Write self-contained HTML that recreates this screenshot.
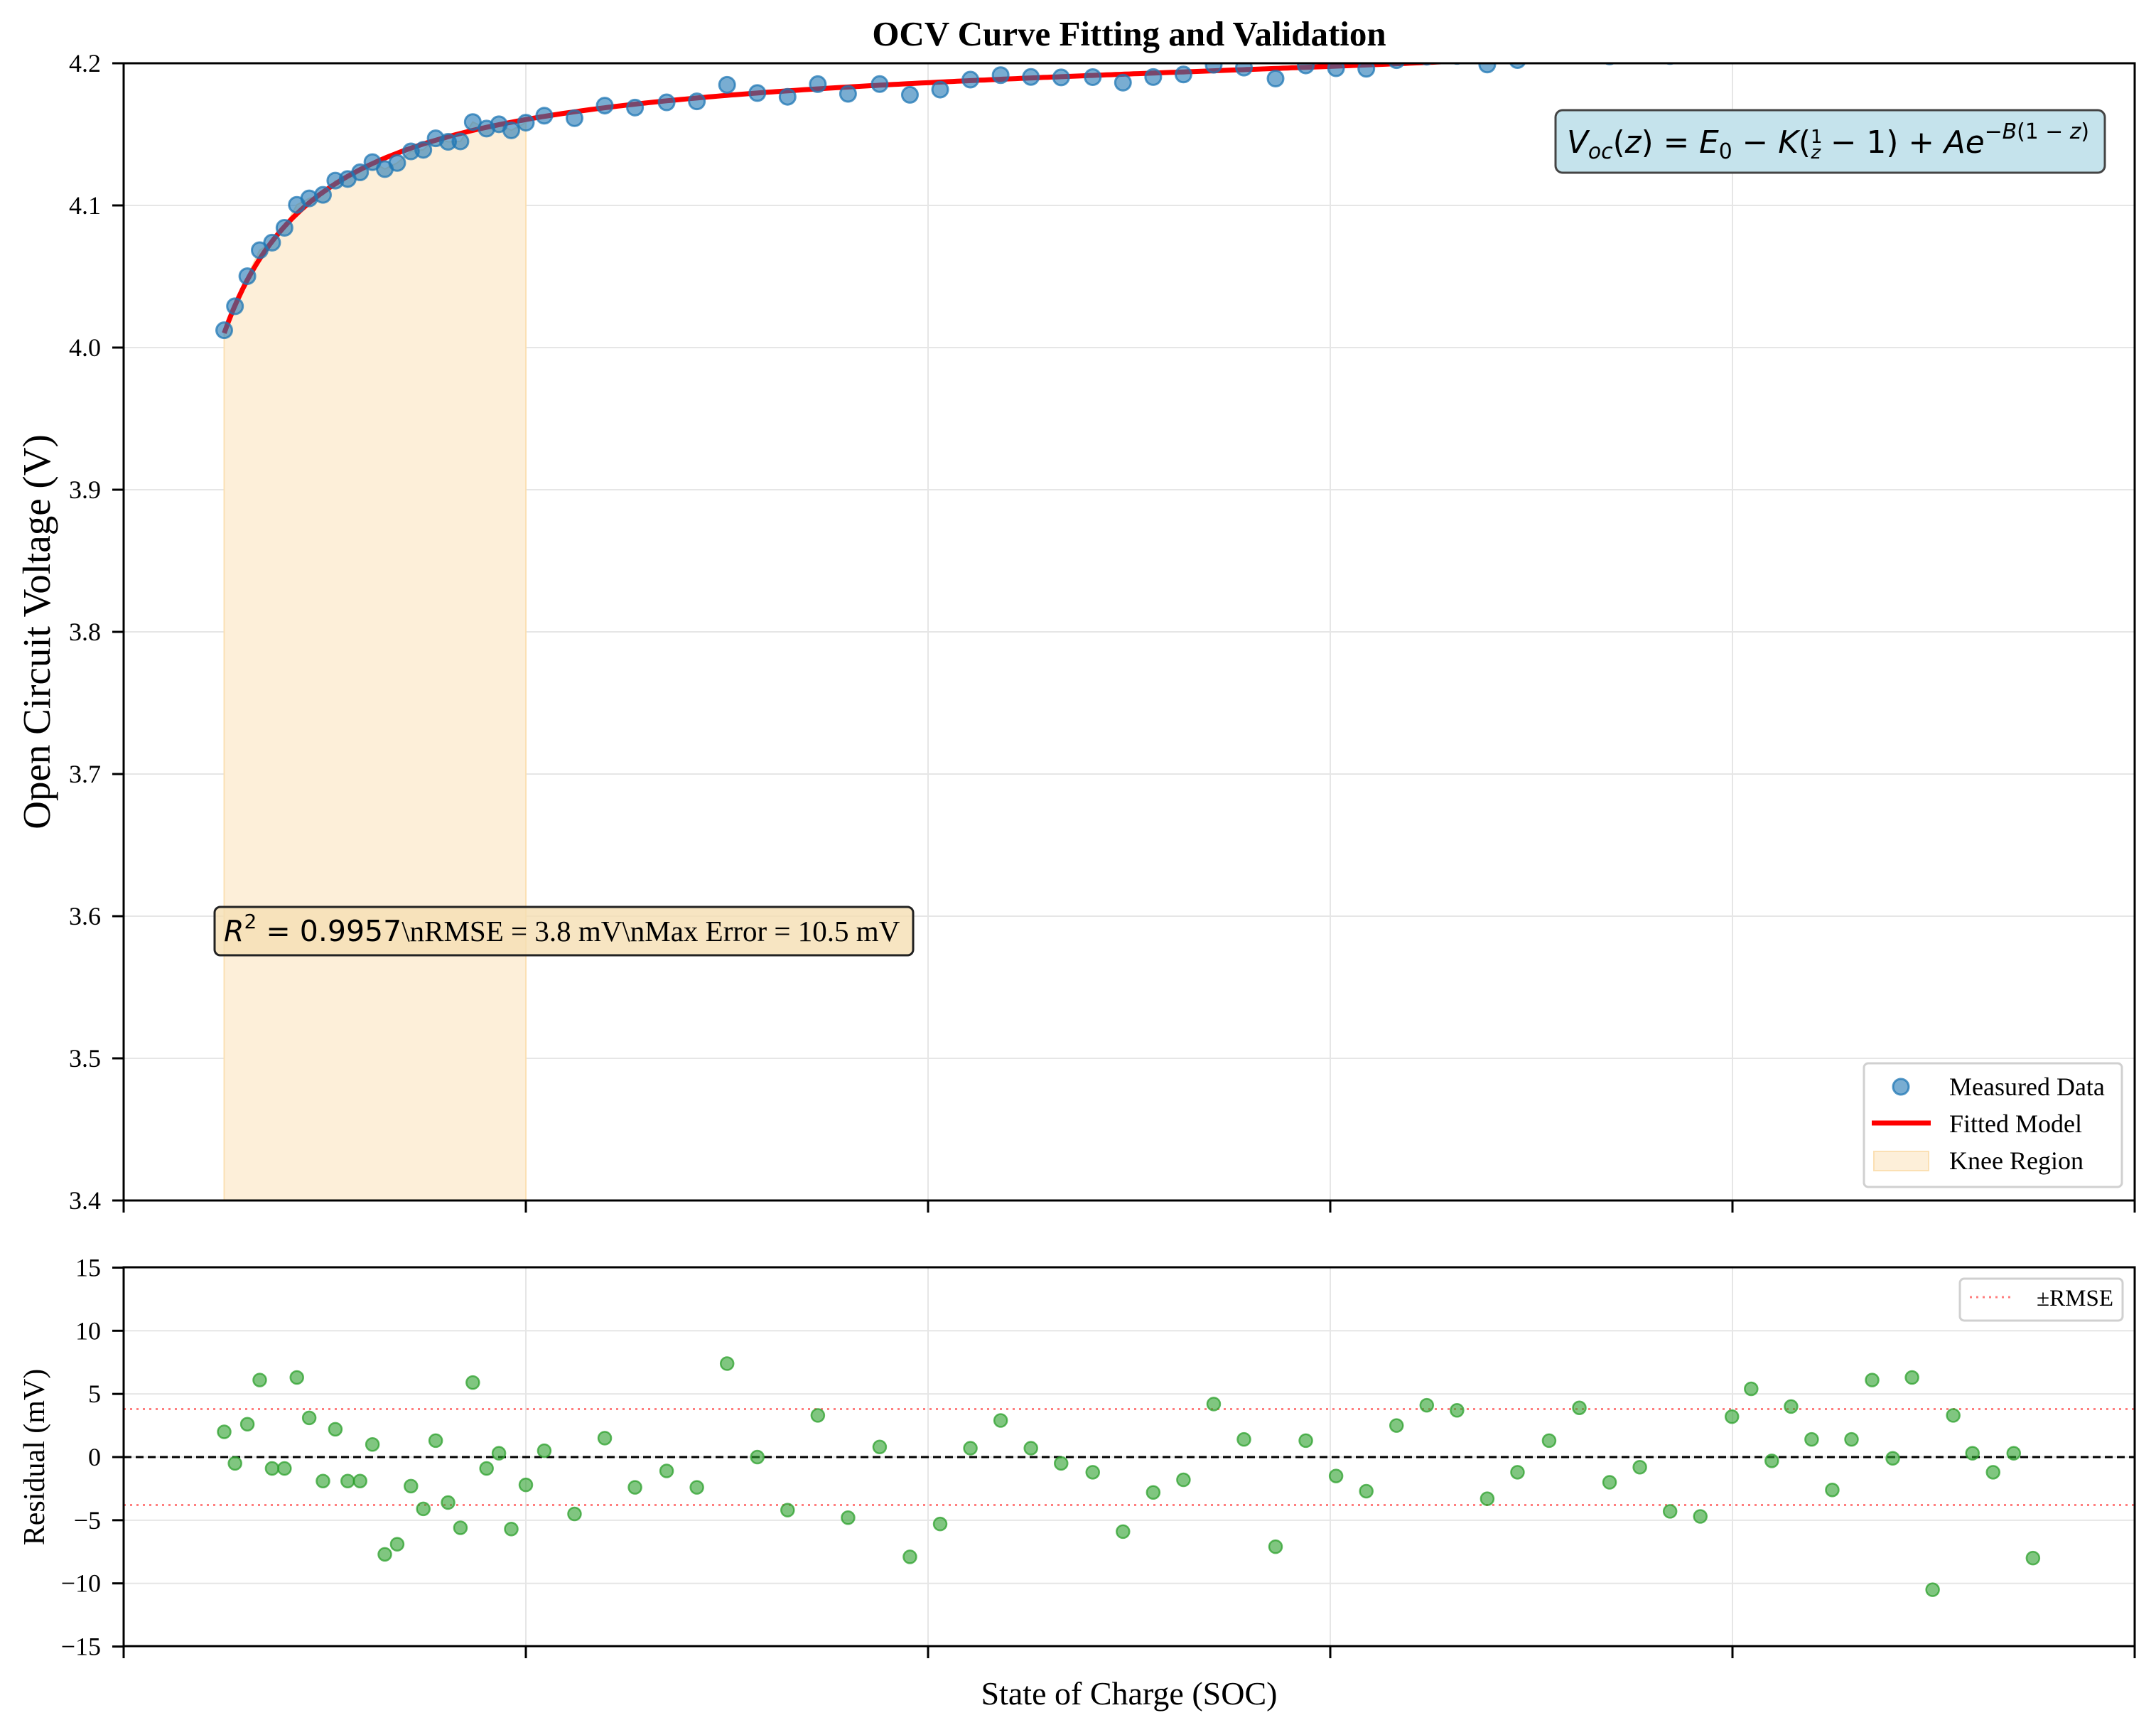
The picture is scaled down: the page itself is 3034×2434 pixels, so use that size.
<!DOCTYPE html>
<html><head><meta charset="utf-8"><style>
html,body{margin:0;padding:0;background:#fff;}
svg{display:block;}
text{font-family:"Liberation Serif",serif;fill:#000;}
.m{font-family:"DejaVu Sans",sans-serif;font-style:italic;}
</style></head><body>
<svg id="s" width="3034" height="2434" viewBox="0 0 3034 2434" xmlns="http://www.w3.org/2000/svg">
<defs>
<clipPath id="c1"><rect x="174" y="89" width="2830" height="1600"/></clipPath>
<clipPath id="c2"><rect x="174" y="1783" width="2830" height="533"/></clipPath>
</defs>
<rect width="3034" height="2434" fill="#fff"/>
<g id="g"></g>
<text x="1589" y="64" font-size="49" font-weight="bold" text-anchor="middle">OCV Curve Fitting and Validation</text>
<text transform="translate(70,889) rotate(-90)" font-size="55" text-anchor="middle">Open Circuit Voltage (V)</text>
<text transform="translate(62,2050) rotate(-90)" font-size="42" text-anchor="middle">Residual (mV)</text>
<text x="1589" y="2398" font-size="46" text-anchor="middle">State of Charge (SOC)</text>
</svg>
<script>
const NS="http://www.w3.org/2000/svg";
const g=document.getElementById('g');
function el(t,a,p){const e=document.createElementNS(NS,t);for(const k in a)e.setAttribute(k,a[k]);(p||g).appendChild(e);return e;}
const X=z=>174+z*2830, YT=v=>89+(4.2-v)*2000, YR=r=>2050-r*17.77;
const fit=z=>4.2-0.01*(1/z-1)+0.05*Math.exp(-6.03*(1-z));
const th=[162,171,180,189,198,207,216,225,235,244,253,262,271,280,289,299,308,317,326,335,344,354,363,372,381,396,418,440,462,485,507,529,551,573,595,617,640,662,684,706,728,750,772,795,817,839,861,883,905,928,950,972,994,1016,1038,1060,1082,1104,1127,1149,1171,1193,1215,1237,1260,1274,1289,1303,1318,1333,1347,1362,1377,1391,1406,1421,1435,1450,1465,1479];
const rs=[2.0,-0.5,2.6,6.1,-0.9,-0.9,6.3,3.1,-1.9,2.2,-1.9,-1.9,1.0,-7.7,-6.9,-2.3,-4.1,1.3,-3.6,-5.6,5.9,-0.9,0.3,-5.7,-2.2,0.5,-4.5,1.5,-2.4,-1.1,-2.4,7.4,0,-4.2,3.3,-4.8,0.8,-7.9,-5.3,0.7,2.9,0.7,-0.5,-1.2,-5.9,-2.8,-1.8,4.2,1.4,-7.1,1.3,-1.5,-2.7,2.5,4.1,3.7,-3.3,-1.2,1.3,3.9,-2.0,-0.8,-4.3,-4.7,3.2,5.4,-0.3,4.0,1.4,-2.6,1.4,6.1,-0.1,6.3,-10.5,3.3,0.3,-1.2,0.3,-8.0];
const zs=th.map((t,i)=>i==0?0.05:(i==24?0.2:(t-90)/1463));
const xt=[0,0.2,0.4,0.6,0.8,1];
for(const z of xt){el('line',{x1:X(z),x2:X(z),y1:89,y2:1689,stroke:'#e6e6e6','stroke-width':2});el('line',{x1:X(z),x2:X(z),y1:1783,y2:2316,stroke:'#e6e6e6','stroke-width':2});}
for(let i=0;i<=8;i++){const v=3.4+i*0.1;el('line',{x1:174,x2:3004,y1:YT(v),y2:YT(v),stroke:'#e6e6e6','stroke-width':2});}
for(let r=-15;r<=15;r+=5)el('line',{x1:174,x2:3004,y1:YR(r),y2:YR(r),stroke:'#e6e6e6','stroke-width':2});
let p='M'+X(0.05)+','+YT(3.4);
for(let i=0;i<25;i++)p+=' L'+X(zs[i]).toFixed(1)+','+YT(fit(zs[i])+rs[i]/1000).toFixed(1);
p+=' L'+X(0.2)+','+YT(3.4)+'Z';
el('path',{d:p,fill:'#fdefd9',stroke:'#fbe0b4','stroke-width':2,'clip-path':'url(#c1)'});
let q='';for(let i=0;i<=400;i++){const z=0.05+i*0.9/400;q+=(i?' L':'M')+X(z).toFixed(1)+','+YT(fit(z)).toFixed(1);}
const tg=el('g',{'clip-path':'url(#c1)'});
el('path',{d:q,fill:'none',stroke:'#ff0000','stroke-width':7},tg);
for(let i=0;i<zs.length;i++)el('circle',{cx:X(zs[i]),cy:YT(fit(zs[i])+rs[i]/1000),r:11,fill:'rgba(31,119,180,0.6)',stroke:'rgba(31,119,180,0.75)','stroke-width':3},tg);
const rg=el('g',{'clip-path':'url(#c2)'});
el('line',{x1:174,x2:3004,y1:YR(0),y2:YR(0),stroke:'#000','stroke-width':3,'stroke-dasharray':'11,6'},rg);
for(const s of [3.8,-3.8])el('line',{x1:174,x2:3004,y1:YR(s),y2:YR(s),stroke:'#ff7f7f','stroke-width':3,'stroke-dasharray':'3,6'},rg);
for(let i=0;i<zs.length;i++)el('circle',{cx:X(zs[i]),cy:YR(rs[i]),r:9,fill:'rgba(44,160,44,0.6)',stroke:'rgba(44,160,44,0.75)','stroke-width':2.5},rg);
el('rect',{x:174,y:89,width:2830,height:1600,fill:'none',stroke:'#000','stroke-width':3});
el('rect',{x:174,y:1783,width:2830,height:533,fill:'none',stroke:'#000','stroke-width':3});
for(const z of xt){el('line',{x1:X(z),x2:X(z),y1:1689,y2:1706,stroke:'#000','stroke-width':3});el('line',{x1:X(z),x2:X(z),y1:2316,y2:2333,stroke:'#000','stroke-width':3});}
function txt(x,y,s,fs,anc,cls){const t=el('text',{x:x,y:y,'font-size':fs,'text-anchor':anc||'start'});if(cls)t.setAttribute('class',cls);t.textContent=s;return t;}
for(let i=0;i<=8;i++){const v=3.4+i*0.1;const y=YT(v);el('line',{x1:158,x2:174,y1:y,y2:y,stroke:'#000','stroke-width':3});txt(142,y+12,v.toFixed(1),36,'end');}
for(let r=-15;r<=15;r+=5){const y=YR(r);el('line',{x1:158,x2:174,y1:y,y2:y,stroke:'#000','stroke-width':3});txt(142,y+12,(r<0?'\u2212':'')+Math.abs(r),36,'end');}
el('rect',{x:2189,y:155,width:773,height:88,rx:10,fill:'#c5e3ec',stroke:'#444','stroke-width':3});
const ft=el('text',{x:2205,y:215,'font-size':44,class:'m',textLength:735,lengthAdjust:'spacingAndGlyphs'});
ft.innerHTML='V<tspan font-size="30" dy="8">oc</tspan><tspan dy="-8" font-style="normal">(</tspan>z<tspan font-style="normal">) = </tspan>E<tspan font-style="normal" font-size="30" dy="8">0</tspan><tspan dy="-8" font-style="normal"> − </tspan>K<tspan font-style="normal">(</tspan><tspan font-size="26" font-style="normal" dy="-14">1</tspan><tspan font-size="26" dy="22" dx="-16">z</tspan><tspan dy="-8" font-style="normal"> − 1) + </tspan>Ae<tspan font-size="30" dy="-20"><tspan font-style="normal">−</tspan>B<tspan font-style="normal">(1 − </tspan>z<tspan font-style="normal">)</tspan></tspan>';
el('rect',{x:302,y:1276,width:983,height:68,rx:8,fill:'rgba(245,222,179,0.8)',stroke:'#222','stroke-width':3});
const st=el('text',{x:315,y:1324,'font-size':41});
st.innerHTML='<tspan class="m">R</tspan><tspan font-family="DejaVu Sans" font-size="28" dy="-18">2</tspan><tspan font-family="DejaVu Sans" dy="18"> = 0.9957</tspan><tspan>\\nRMSE = 3.8 mV\\nMax Error = 10.5 mV</tspan>';
el('rect',{x:2623,y:1496,width:363,height:174,rx:6,fill:'rgba(255,255,255,0.85)',stroke:'#d0d0d0','stroke-width':3});
el('circle',{cx:2675,cy:1529,r:11,fill:'rgba(31,119,180,0.6)',stroke:'rgba(31,119,180,0.75)','stroke-width':3});
el('line',{x1:2634,x2:2717,y1:1580,y2:1580,stroke:'#f00','stroke-width':7});
el('rect',{x:2637,y:1620,width:77,height:27,fill:'#fdefd9',stroke:'#fbe0b4','stroke-width':2});
txt(2743,1541,'Measured Data',36);
txt(2743,1593,'Fitted Model',36);
txt(2743,1645,'Knee Region',36);
el('rect',{x:2758,y:1799,width:229,height:59,rx:6,fill:'rgba(255,255,255,0.85)',stroke:'#d0d0d0','stroke-width':3});
el('line',{x1:2772,x2:2834,y1:1825,y2:1825,stroke:'#ff7f7f','stroke-width':3,'stroke-dasharray':'3,6'});
txt(2866,1837,'±RMSE',33);
</script>
</body></html>
